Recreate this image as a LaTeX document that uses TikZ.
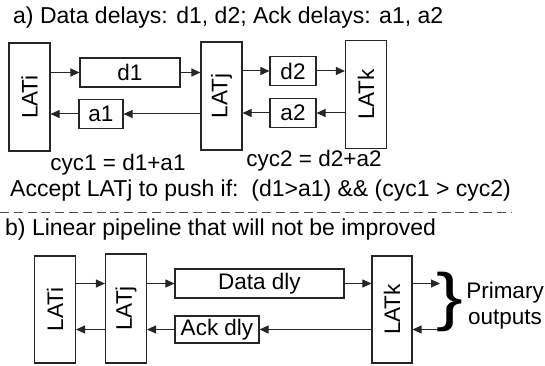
\documentclass[tikz,border=0pt]{standalone}
\usepackage{fontspec}
\setmainfont{Liberation Sans}
\usetikzlibrary{arrows.meta,positioning}

\begin{document}
\begin{tikzpicture}[x=1pt,y=-1pt,
  every node/.style={font=\fontsize{22.5}{26}\selectfont, inner sep=0pt},
  lat/.style={
    rectangle, draw=black!85, line width=1.1pt,
    minimum width=41pt, minimum height=108pt
  },
  dly/.style={
    rectangle, draw=black!85, line width=1.1pt,
    minimum height=29pt
  },
  arr/.style={-{Triangle[length=9pt,width=8pt]}, line width=1pt, draw=black!85},
  ttl/.style={anchor=west, font=\fontsize{23}{27}\selectfont},
]
\useasboundingbox (0,0) rectangle (545,366);

%% ── a) two stage loop ────────────────────────────────────────────
\node[ttl] (ttla) at (13,18) {a) Data delays: d1, d2; Ack delays: a1, a2};

\node[lat] (ia) at (29.5,97)  {\rotatebox{90}{LATi}};
\node[lat] (ja) at (221.5,96) {\rotatebox{90}{LATj}};
\node[lat] (ka) at (366,94.5) {\rotatebox{90}{LATk}};

\node[dly, minimum width=100pt] (d1) at (130,72.5) {d1};
\node[dly, minimum width=46pt]  (d2) at (293,71)   {d2};
\node[dly, minimum width=44pt]  (a1) at (101,114)  {a1};
\node[dly, minimum width=46pt]  (a2) at (293,113)  {a2};

\draw[arr] (ia.east |- d1.west) -- (d1.west);
\draw[arr] (d1.east) -- (ja.west |- d1.east);
\draw[arr] (ja.east |- d2.west) -- (d2.west);
\draw[arr] (d2.east) -- (ka.west |- d2.east);

\draw[arr] (ja.west |- a1.east) -- (a1.east);
\draw[arr] (a1.west) -- (ia.east |- a1.west);
\draw[arr] (ka.west |- a2.east) -- (a2.east);
\draw[arr] (a2.west) -- (ja.east |- a2.west);

\node (cyc1) at (118,165) {cyc1 = d1+a1};
\node (cyc2) at (314,161) {cyc2 = d2+a2};
\node[ttl] (cond) at (10,191) {Accept LATj to push if:\ \ (d1>a1) \&\& (cyc1 > cyc2)};

%% ── separator ────────────────────────────────────────────────────
\coordinate (sepl) at (0,212);
\coordinate (sepr) at (512,212);
\draw[black!70, line width=1pt, dash pattern=on 9pt off 4.8pt] (sepl) -- (sepr);

%% ── b) linear pipeline ───────────────────────────────────────────
\node[ttl] (ttlb) at (5,230) {b) Linear pipeline that will not be improved};

\node[lat, minimum height=107pt] (ib) at (55,309.5)  {\rotatebox{90}{LATi}};
\node[lat, minimum height=109pt] (jb) at (126,308.5) {\rotatebox{90}{LATj}};
\node[lat, minimum height=107pt, minimum width=40pt] (kb) at (392,309.5) {\rotatebox{90}{LATk}};

\node[dly, minimum width=169pt] (ddly) at (259.5,283.5) {Data dly};
\node[dly, minimum width=84pt, minimum height=27pt] (adly) at (217,329.5) {Ack dly};

\draw[arr] (ib.east |- ddly.west) -- (jb.west |- ddly.west);
\draw[arr] (jb.east |- ddly.west) -- (ddly.west);
\draw[arr] (ddly.east) -- (kb.west |- ddly.east);

\draw[arr] (jb.west |- adly.west) -- (ib.east |- adly.west);
\draw[arr] (adly.west) -- (jb.east |- adly.west);
\draw[arr] (kb.west |- adly.east) -- (adly.east);

%% outputs
\coordinate (pout) at (440,283.5);
\coordinate (pin)  at (440,329.5);
\draw[arr] (kb.east |- pout) -- (pout);
\draw[arr] (pin) -- (kb.east |- pin);

\node (brc) at (450,302) {\scalebox{1.25}[1]{\fontsize{64}{64}\selectfont\}}};

\node (prim) at (505,293) {Primary};
\node (outs) at (505,320) {outputs};

\end{tikzpicture}
\end{document}
